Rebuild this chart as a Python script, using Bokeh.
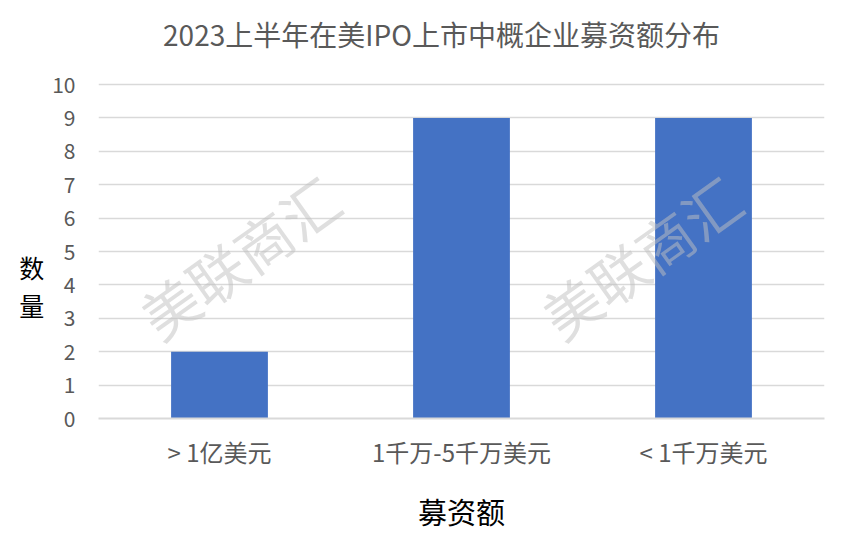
from bokeh.plotting import figure
from bokeh.models import ColumnDataSource, Label, FactorRange
from bokeh.embed import file_html
from bokeh.resources import INLINE

# Fundraising brackets and the number of companies in each
categories = ["> 1亿美元", "1千万-5千万美元", "< 1千万美元"]
counts = [2, 9, 9]
y_ticks = list(range(0, 11))

title_text = "2023上半年在美IPO上市中概企业募资额分布"
x_label = "募资额"
# stacked vertical label; the blank lines push the two characters below centre
y_label = " \n \n \n \n数\n量"
watermark = "美联商汇"

FONT = "Noto Sans CJK SC"
GREY = "#595959"

# The frame reaches the top of the canvas so that the title can sit inside it;
# value 10 stays at 334 px above the x axis.
PLOT_H = 418
AXIS_H = 334
y_top = max(y_ticks) * PLOT_H / AXIS_H

source = ColumnDataSource(data=dict(cat=categories, n=counts))

p = figure(
    width=846, height=543,
    x_range=FactorRange(*categories),
    y_range=(0, y_top),
    output_backend="svg",
    toolbar_location=None,
    min_border_left=98, min_border_right=22,
    min_border_top=0, min_border_bottom=125,
)

p.vbar(x="cat", top="n", width=0.4, source=source,
       fill_color="#4472c4", line_color=None)

# title
p.add_layout(Label(
    x=343, y=PLOT_H - 33, x_units="screen", y_units="screen",
    text=title_text, text_font=FONT, text_font_size="28px",
    text_color=GREY, text_align="center", text_baseline="middle",
))

# axes
p.yaxis.ticker = y_ticks
p.yaxis.axis_line_color = None
p.yaxis.major_tick_line_color = None
p.yaxis.minor_tick_line_color = None
p.yaxis.major_label_text_font = FONT
p.yaxis.major_label_text_font_size = "21px"
p.yaxis.major_label_text_color = GREY
p.yaxis.major_label_standoff = 17
p.yaxis.axis_label = y_label
p.yaxis.axis_label_orientation = "horizontal"
p.yaxis.axis_label_text_font = FONT
p.yaxis.axis_label_text_font_size = "25px"
p.yaxis.axis_label_text_font_style = "normal"
p.yaxis.axis_label_text_color = "black"
p.yaxis.axis_label_text_line_height = 1.06
p.yaxis.axis_label_standoff = 5

p.xaxis.axis_line_color = "#d9d9d9"
p.xaxis.axis_line_width = 2
p.xaxis.major_tick_line_color = None
p.xaxis.minor_tick_line_color = None
p.xaxis.major_label_text_font = FONT
p.xaxis.major_label_text_font_size = "24px"
p.xaxis.major_label_text_color = GREY
p.xaxis.major_label_standoff = 9
p.xaxis.axis_label = x_label
p.xaxis.axis_label_text_font = FONT
p.xaxis.axis_label_text_font_size = "29px"
p.xaxis.axis_label_text_font_style = "normal"
p.xaxis.axis_label_text_color = "black"
p.xaxis.axis_label_standoff = 18

p.xgrid.grid_line_color = None
p.ygrid.grid_line_color = "#d9d9d9"
p.ygrid.grid_line_width = 1.5
p.outline_line_color = None

# watermarks
for wx, wy in [(0.58, 4.85), (2.24, 4.85)]:
    p.add_layout(Label(
        x=wx, y=wy, text=watermark, angle=35.5, angle_units="deg",
        text_font=FONT, text_font_size="57px", text_color="#bfbfbf",
        text_alpha=0.5, text_align="center", text_baseline="middle",
        level="overlay",
    ))

p.background_fill_color = "white"
p.border_fill_color = "white"

open("out.html", "w").write(file_html(p, INLINE))
